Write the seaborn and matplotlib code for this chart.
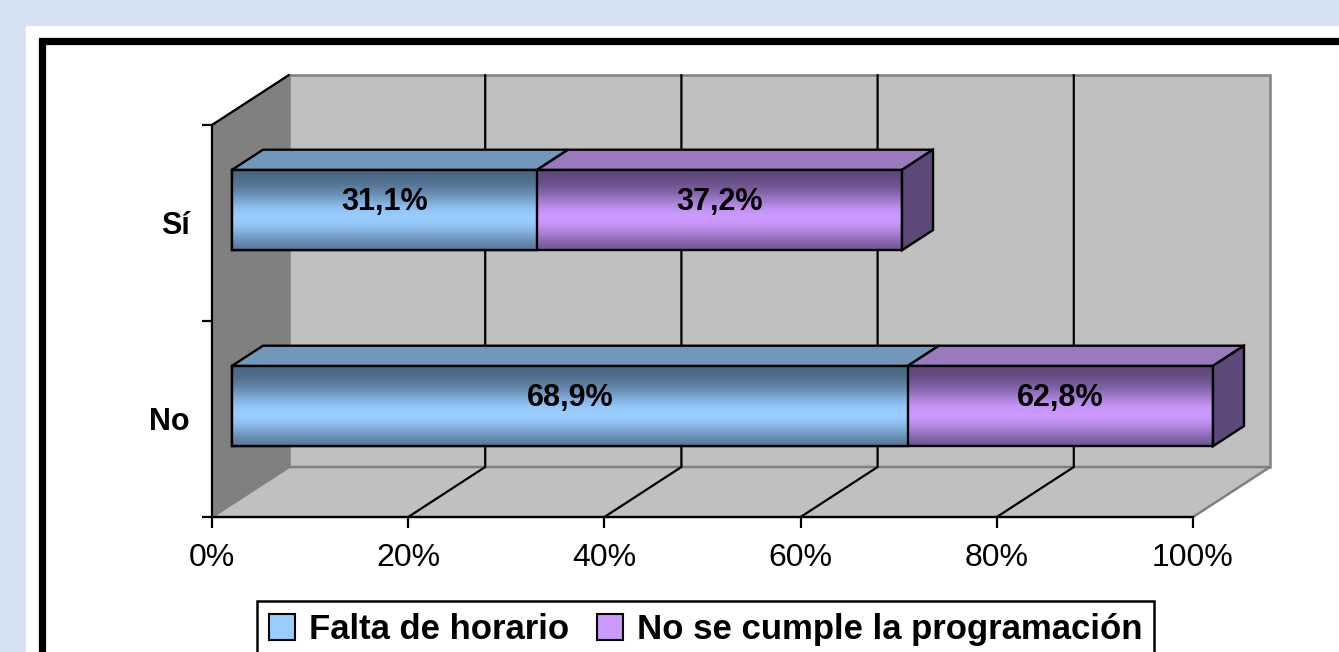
import matplotlib
matplotlib.use("Agg")

import matplotlib.pyplot as plt
import numpy as np
import pandas as pd
import seaborn as sns

from matplotlib.colors import to_rgb
from matplotlib.patches import Patch, Polygon, Rectangle
from matplotlib.ticker import FixedLocator
from matplotlib.transforms import offset_copy

# Data (percent)
categories = ["Sí", "No"]
falta = [31.1, 68.9]
no_cumple = [37.2, 62.8]
series = ["Falta de horario", "No se cumple la programación"]
x_ticks = [0, 20, 40, 60, 80, 100]

BLUE, BLUE_DARK, BLUE_TOP = "#99ccff", "#46627e", "#7198bb"
PURPLE, PURPLE_DARK, PURPLE_TOP, PURPLE_END = "#cc99ff", "#5a4576", "#9a79bf", "#5e4879"
WALL, WALL_SIDE, WALL_EDGE = "#c0c0c0", "#808080", "#808080"

sns.set_theme(style="white")
plt.rcParams["font.family"] = ["Liberation Sans", "DejaVu Sans"]
plt.rcParams["text.color"] = "black"

W, H = 1339, 652
DX, DY = 77, 50            # 3-D depth offset of the back wall, in pixels
D0, D1 = 20 / 77, 51 / 77  # front / back depth of the bars
BAR_H = 0.41
EDGE_LW = 1.7

fig = plt.figure(figsize=(W / 100, H / 100), dpi=100)
fig.patch.set_facecolor("#d5e2f2")
fig.add_artist(Rectangle((26 / W, -0.1), 2, 1.1 - 26 / H, transform=fig.transFigure,
                         facecolor="white", edgecolor="none", zorder=0))
fig.add_artist(Rectangle((41.5 / W, -0.1), 2, 1.1 - 40.5 / H, transform=fig.transFigure,
                         facecolor="none", edgecolor="black", lw=5.2, zorder=0.5))

ax = fig.add_axes([212 / W, (H - 517) / H, 981 / W, (517 - 125) / H])
ax.set_facecolor("none")

df = pd.DataFrame({"cat": categories, "falta": falta, "no_cumple": no_cumple})
# Excel clips the stacked total at the 100 % axis maximum
df["total"] = np.minimum(df["falta"] + df["no_cumple"], 100)

sns.barplot(data=df, y="cat", x="total", order=categories, color=PURPLE, saturation=1,
            width=BAR_H, orient="h", errorbar=None, ax=ax)
sns.barplot(data=df, y="cat", x="falta", order=categories, color=BLUE, saturation=1,
            width=BAR_H, orient="h", errorbar=None, ax=ax)
bars = list(ax.patches)

ax.set_xlim(0, 100)
ax.set_ylim(1.5, -0.5)
ax.set_autoscale_on(False)


def proj(x, y, d):
    """Data point on the front plane pushed back to depth d (0 front, 1 back wall)."""
    pt = ax.transData.transform((x, y)) + np.array([DX * d, DY * d])
    return ax.transData.inverted().transform(pt)


def poly(pts, **kw):
    ax.add_patch(Polygon(pts, closed=True, clip_on=False, **kw))


y_top, y_bot = -0.5, 1.5
# walls and floor
poly([proj(0, y_bot, 1), proj(100, y_bot, 1), proj(100, y_top, 1), proj(0, y_top, 1)],
     facecolor=WALL, edgecolor=WALL_EDGE, lw=1.8, zorder=0.5)
poly([proj(0, y_bot, 0), proj(0, y_top, 0), proj(0, y_top, 1), proj(0, y_bot, 1)],
     facecolor=WALL_SIDE, edgecolor=WALL_EDGE, lw=1.5, zorder=0.6)
poly([proj(0, y_bot, 0), proj(100, y_bot, 0), proj(100, y_bot, 1), proj(0, y_bot, 1)],
     facecolor=WALL, edgecolor=WALL_EDGE, lw=1.8, zorder=0.6)
a, b = proj(0, y_top, 0), proj(0, y_top, 1)
ax.plot([a[0], b[0]], [a[1], b[1]], color="black", lw=1.6, clip_on=False, zorder=1)
for xv in x_ticks[1:-1]:
    p0, p1, p2 = proj(xv, y_bot, 0), proj(xv, y_bot, 1), proj(xv, y_top, 1)
    ax.plot([p0[0], p1[0], p2[0]], [p0[1], p1[1], p2[1]], color="black", lw=1.6,
            clip_on=False, zorder=1)

# front faces: gradient image clipped to each seaborn bar, shifted in depth
front_tr = offset_copy(ax.transData, fig=fig, x=DX * D0, y=DY * D0, units="dots")
t = np.linspace(0, 1, 80)
f = np.exp(-((t - 0.6) / 0.32) ** 2)[:, None, None]
for i, p in enumerate(bars):
    light, dark = (PURPLE, PURPLE_DARK) if i < 2 else (BLUE, BLUE_DARK)
    grad = f * np.array(to_rgb(light)) + (1 - f) * np.array(to_rgb(dark))
    p.set_transform(front_tr)
    p.set_clip_on(False)
    p.set_facecolor("none")
    p.set_edgecolor("black")
    p.set_linewidth(EDGE_LW)
    p.set_zorder(3.5 + i)
    x0, y0 = p.get_x(), p.get_y()
    im = ax.imshow(grad, extent=(x0, x0 + p.get_width(), y0 + p.get_height(), y0),
                   origin="upper", aspect="auto", transform=front_tr, zorder=3 + i,
                   interpolation="bilinear")
    im.set_clip_path(p)

# top and end faces of the stacked segments
for k, cat in enumerate(categories):
    yt, yb = k - BAR_H / 2, k + BAR_H / 2
    segs = [(0, df["falta"][k], BLUE_TOP), (df["falta"][k], df["total"][k], PURPLE_TOP)]
    for s0, s1, col in segs:
        poly([proj(s0, yt, D0), proj(s1, yt, D0), proj(s1, yt, D1), proj(s0, yt, D1)],
             facecolor=col, edgecolor="black", lw=EDGE_LW, zorder=8)
    end = df["total"][k]
    poly([proj(end, yt, D0), proj(end, yb, D0), proj(end, yb, D1), proj(end, yt, D1)],
         facecolor=PURPLE_END, edgecolor="black", lw=EDGE_LW, zorder=8)
    # value labels on the front face
    ax.text(df["falta"][k] / 2, k - 0.04, f"{falta[k]:.1f}%".replace(".", ","),
            transform=front_tr, ha="center", va="center", fontsize=22,
            fontweight="bold", color="black", zorder=10)
    ax.text((df["falta"][k] + end) / 2, k - 0.04, f"{no_cumple[k]:.1f}%".replace(".", ","),
            transform=front_tr, ha="center", va="center", fontsize=22,
            fontweight="bold", color="black", zorder=10)

# axes
for side in ["top", "right"]:
    ax.spines[side].set_visible(False)
for side in ["left", "bottom"]:
    ax.spines[side].set_color("black")
    ax.spines[side].set_linewidth(1.6)
    ax.spines[side].set_zorder(2)
ax.set_xticks(x_ticks)
ax.set_xticklabels([f"{v}%" for v in x_ticks])
ax.set_yticks(range(len(categories)))
ax.set_yticklabels(categories, fontweight="bold")
ax.yaxis.set_minor_locator(FixedLocator([-0.5, 0.5, 1.5]))
ax.tick_params(axis="x", bottom=True, direction="out", length=8, width=1.6,
               color="black", labelcolor="black", labelsize=23, pad=11)
ax.tick_params(axis="y", which="major", left=True, length=0, labelsize=22,
               labelcolor="black", pad=16)
ax.tick_params(axis="y", which="minor", left=True, direction="out", length=7,
               width=1.6, color="black")
ax.set_xlabel("")
ax.set_ylabel("")

handles = [Patch(facecolor=BLUE, edgecolor="black", lw=1.5),
           Patch(facecolor=PURPLE, edgecolor="black", lw=1.5)]
leg = fig.legend(handles, series, loc="upper center", ncol=2,
                 bbox_to_anchor=(705.5 / W, 1 - 601 / H), bbox_transform=fig.transFigure,
                 frameon=True, fancybox=False, edgecolor="black", framealpha=1,
                 prop=dict(weight="bold", size=25), handlelength=0.75, handleheight=0.75,
                 handletextpad=0.4, columnspacing=0.8, borderpad=0.35, borderaxespad=0)
leg.get_frame().set_linewidth(1.8)
for txt in leg.get_texts():
    txt.set_color("black")

fig.savefig("out.png", dpi=100)
